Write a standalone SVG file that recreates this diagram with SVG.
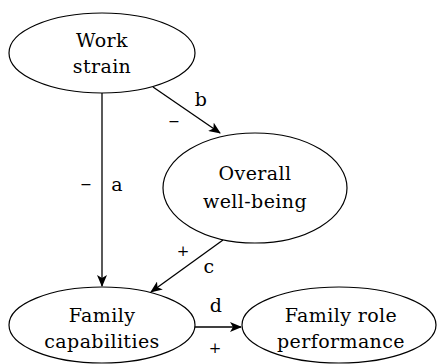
<svg xmlns="http://www.w3.org/2000/svg" width="438" height="364" viewBox="0 0 438 364">
<defs>
<style>
.node ellipse{fill:#fff;stroke:#000;stroke-width:1.2}
text{font-family:"DejaVu Serif","Liberation Serif",serif;font-size:19px;letter-spacing:0.4px;fill:#000;text-anchor:middle}
.edge line{stroke:#000;stroke-width:1.3}
.sign{font-size:15px;letter-spacing:0}
.minus{font-family:"Liberation Sans",sans-serif;font-size:16px;letter-spacing:0}
</style>
<marker id="ah" viewBox="0 0 12 10" refX="11" refY="5" markerWidth="12" markerHeight="10" markerUnits="userSpaceOnUse" orient="auto">
<path d="M0,0 L12,5 L0,10 L3,5 Z" fill="#000"/>
</marker>
</defs>
<rect width="438" height="364" fill="#fff"/>
<g id="connectors" class="edge">
<line x1="102" y1="93" x2="102" y2="286" marker-end="url(#ah)"/>
<line x1="153" y1="87" x2="220" y2="133" marker-end="url(#ah)"/>
<line x1="223" y1="240" x2="151" y2="292" marker-end="url(#ah)"/>
<line x1="195" y1="327" x2="241" y2="327" marker-end="url(#ah)"/>
<text x="86" y="189" class="minus">–</text>
<text x="117" y="191">a</text>
<text x="201" y="106">b</text>
<text x="174" y="126" class="minus">–</text>
<text x="183" y="256" class="sign">+</text>
<text x="209" y="273">c</text>
<text x="216" y="312">d</text>
<text x="215" y="353" class="sign">+</text>
</g>
<g id="work-strain" class="node">
<ellipse cx="102" cy="53" rx="93" ry="40"/>
<text x="102" y="47">Work</text>
<text x="102" y="73">strain</text>
</g>
<g id="overall-well-being" class="node">
<ellipse cx="255" cy="188" rx="92" ry="55"/>
<text x="255" y="180">Overall</text>
<text x="255" y="208">well-being</text>
</g>
<g id="family-capabilities" class="node">
<ellipse cx="102" cy="325" rx="93" ry="38"/>
<text x="102" y="322">Family</text>
<text x="102" y="348">capabilities</text>
</g>
<g id="family-role-performance" class="node">
<ellipse cx="339" cy="325" rx="97" ry="38"/>
<text x="341" y="322">Family role</text>
<text x="341" y="348">performance</text>
</g>
</svg>
